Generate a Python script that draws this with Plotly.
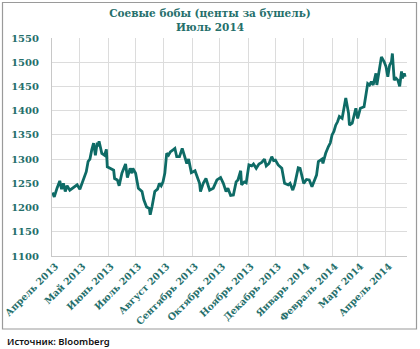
import plotly.graph_objects as go

dates = [
    "2013-04-01", "2013-04-03", "2013-04-06", "2013-04-09", "2013-04-11", "2013-04-13",
    "2013-04-15", "2013-04-17", "2013-04-20", "2013-04-24", "2013-04-28", "2013-05-01",
    "2013-05-04", "2013-05-08", "2013-05-10", "2013-05-12", "2013-05-14", "2013-05-16",
    "2013-05-18", "2013-05-20", "2013-05-21", "2013-05-22", "2013-05-25", "2013-05-28",
    "2013-05-30", "2013-05-31", "2013-06-03", "2013-06-07", "2013-06-08", "2013-06-11",
    "2013-06-13", "2013-06-16", "2013-06-20", "2013-06-22", "2013-06-25", "2013-06-27",
    "2013-06-28", "2013-07-01", "2013-07-04", "2013-07-08", "2013-07-10", "2013-07-13",
    "2013-07-16", "2013-07-17", "2013-07-19", "2013-07-22", "2013-07-25", "2013-07-27",
    "2013-07-29", "2013-07-31", "2013-08-02", "2013-08-04", "2013-08-06", "2013-08-08",
    "2013-08-11", "2013-08-13", "2013-08-15", "2013-08-18", "2013-08-21", "2013-08-24",
    "2013-08-26", "2013-08-28", "2013-08-31", "2013-09-04", "2013-09-06", "2013-09-09",
    "2013-09-10", "2013-09-13", "2013-09-16", "2013-09-18", "2013-09-20", "2013-09-24",
    "2013-09-28", "2013-10-02", "2013-10-05", "2013-10-08", "2013-10-10", "2013-10-13",
    "2013-10-16", "2013-10-19", "2013-10-21", "2013-10-24", "2013-10-25", "2013-10-28",
    "2013-10-30", "2013-11-02", "2013-11-05", "2013-11-07", "2013-11-10", "2013-11-13",
    "2013-11-16", "2013-11-19", "2013-11-21", "2013-11-24", "2013-11-27", "2013-11-29",
    "2013-12-01", "2013-12-04", "2013-12-08", "2013-12-11", "2013-12-15", "2013-12-17",
    "2013-12-20", "2013-12-22", "2013-12-24", "2013-12-26", "2013-12-28", "2013-12-30",
    "2014-01-01", "2014-01-04", "2014-01-07", "2014-01-10", "2014-01-12", "2014-01-15",
    "2014-01-17", "2014-01-21", "2014-01-22", "2014-01-25", "2014-01-28", "2014-01-30",
    "2014-02-01", "2014-02-03", "2014-02-05", "2014-02-07", "2014-02-09", "2014-02-12",
    "2014-02-14", "2014-02-16", "2014-02-19", "2014-02-20", "2014-02-23", "2014-02-27",
    "2014-03-01", "2014-03-04", "2014-03-08", "2014-03-10", "2014-03-12", "2014-03-14",
    "2014-03-16", "2014-03-18", "2014-03-21", "2014-03-22", "2014-03-25", "2014-03-27",
    "2014-03-30", "2014-04-01", "2014-04-03", "2014-04-05", "2014-04-07", "2014-04-08",
    "2014-04-10", "2014-04-12", "2014-04-14", "2014-04-16", "2014-04-18", "2014-04-19",
    "2014-04-21", "2014-04-22",
]

prices = [
    1231, 1222, 1240, 1255, 1238, 1250,
    1233, 1245, 1236, 1242, 1247, 1238,
    1255, 1274, 1295, 1300, 1319, 1333,
    1308, 1334, 1326, 1337, 1312, 1308,
    1320, 1284, 1281, 1277, 1260, 1257,
    1245, 1271, 1290, 1262, 1281, 1271,
    1281, 1271, 1240, 1233, 1216, 1201,
    1198, 1185, 1202, 1233, 1238, 1250,
    1245, 1253, 1271, 1312, 1308, 1315,
    1319, 1322, 1305, 1305, 1322, 1300,
    1291, 1300, 1272, 1276, 1267, 1250,
    1233, 1250, 1260, 1250, 1236, 1240,
    1257, 1262, 1250, 1233, 1240, 1225,
    1226, 1253, 1257, 1276, 1247, 1253,
    1251, 1288, 1286, 1290, 1281, 1290,
    1293, 1300, 1286, 1291, 1305, 1297,
    1298, 1288, 1281, 1250, 1247, 1250,
    1236, 1247, 1267, 1282, 1281, 1267,
    1250, 1258, 1257, 1243, 1253, 1267,
    1295, 1300, 1291, 1312, 1326, 1333,
    1350, 1357, 1370, 1377, 1388, 1384,
    1405, 1426, 1395, 1370, 1374, 1405,
    1384, 1405, 1408, 1429, 1456, 1453,
    1460, 1453, 1477, 1453, 1488, 1511,
    1501, 1491, 1470, 1494, 1501, 1518,
    1463, 1467, 1463, 1450, 1481, 1467,
    1477, 1470,
]

month_ticks = [
    "2013-04-01", "2013-05-01", "2013-06-01", "2013-07-01", "2013-08-01",
    "2013-09-01", "2013-10-01", "2013-11-01", "2013-12-01", "2014-01-01",
    "2014-02-01", "2014-03-01", "2014-04-01",
]
month_labels = [
    "Апрель 2013", "Май 2013", "Июнь 2013", "Июль 2013", "Август 2013",
    "Сентябрь 2013", "Октябрь 2013", "Ноябрь 2013", "Декабрь 2013", "Январь 2014",
    "Февраль 2014", "Март 2014", "Апрель 2014",
]
y_ticks = [1100, 1150, 1200, 1250, 1300, 1350, 1400, 1450, 1500, 1550]

teal = "#0E6B66"
text_teal = "#256F6B"
serif = "DejaVu Serif"

fig = go.Figure()
fig.add_trace(go.Scatter(
    x=dates, y=prices, mode="lines",
    line=dict(color=teal, width=2.8),
    showlegend=False, hoverinfo="x+y",
))

W, H = 420, 349
L, R, T, B = 52, 13, 38, 93
pw, ph = W - L - R, H - T - B

def px_x(p):
    return (p - L) / pw

def px_y(p):
    return (H - B - p) / ph

fig.update_layout(
    width=W, height=H,
    margin=dict(l=L, r=R, t=T, b=B, pad=0, autoexpand=False),
    paper_bgcolor="white", plot_bgcolor="white",
    title=dict(
        text="Соевые бобы (центы за бушель)<br>Июль 2014",
        x=0.5, xanchor="center", y=1 - 17 / H, yanchor="middle",
        font=dict(family=serif, size=10.5, color=text_teal, weight="bold"),
    ),
    xaxis=dict(
        type="date", automargin=False,
        range=["2013-03-31 12:00", "2014-04-24"],
        tickmode="array", tickvals=month_ticks, ticktext=month_labels,
        tickangle=-45, ticklabeloverflow="allow", ticklabelshift=3,
        tickfont=dict(family=serif, size=9.5, color=text_teal, weight="bold"),
        showgrid=True, gridcolor="#DCDCDC", gridwidth=1,
        showline=True, linecolor="#C8C8C8", linewidth=1,
        ticks="", zeroline=False,
    ),
    yaxis=dict(
        range=[1100, 1550], automargin=False,
        tickmode="array", tickvals=y_ticks,
        tickfont=dict(family=serif, size=10, color=text_teal, weight="bold"),
        showgrid=True, gridcolor="#DCDCDC", gridwidth=1,
        showline=True, linecolor="#C8C8C8", linewidth=1,
        ticks="outside", ticklen=10, tickcolor="rgba(0,0,0,0)",
        zeroline=False,
    ),
    shapes=[dict(
        type="rect", xref="paper", yref="paper",
        x0=px_x(2.5), x1=px_x(416.5), y0=px_y(329), y1=px_y(2.5),
        line=dict(color="#9A9A9A", width=1.2), fillcolor="rgba(0,0,0,0)",
        layer="below",
    )],
    annotations=[dict(
        text="Источник: Bloomberg", xref="paper", yref="paper",
        x=px_x(5), y=px_y(341), xanchor="left", yanchor="middle",
        showarrow=False,
        font=dict(family="Noto Sans", size=9.5, color="#111111", weight=600),
    )],
)

fig.write_html("out.html")
